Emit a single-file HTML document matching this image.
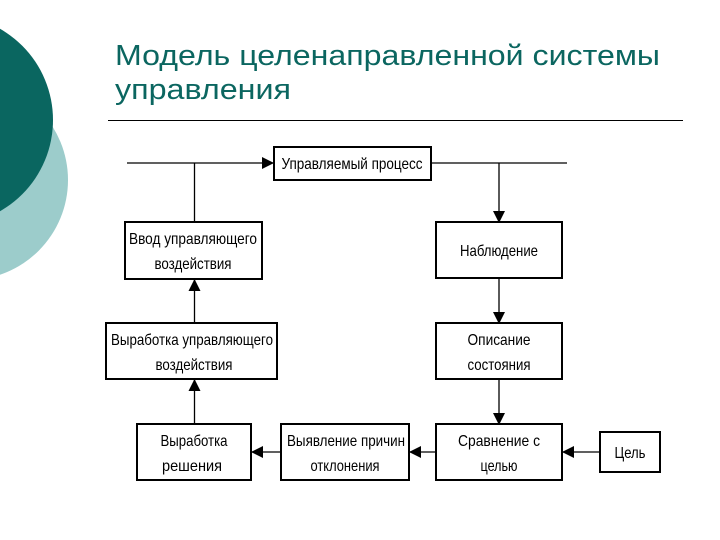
<!DOCTYPE html>
<html><head><meta charset="utf-8"><style>
html,body{margin:0;padding:0;background:#fff;}
svg{display:block;}
.t{font-family:"Liberation Sans",sans-serif;font-size:16px;fill:#000;text-anchor:middle;}
.h{font-family:"Liberation Sans",sans-serif;font-size:29px;fill:#0b6660;}
</style></head><body>
<svg width="720" height="540" viewBox="0 0 720 540" xmlns="http://www.w3.org/2000/svg">
<defs>
<marker id="a" markerWidth="12" markerHeight="12" refX="11" refY="6" orient="auto" markerUnits="userSpaceOnUse">
<path d="M0,0 L12,6 L0,12 z" fill="#000"/></marker>
</defs>
<circle cx="-32" cy="180" r="100" fill="#9ccccb"/>
<circle cx="-52" cy="120" r="105" fill="#0a6660"/>
<text class="h" x="115" y="65" textLength="545" lengthAdjust="spacingAndGlyphs">Модель целенаправленной системы</text>
<text class="h" x="115" y="99" textLength="176" lengthAdjust="spacingAndGlyphs">управления</text>
<line x1="108" y1="120.5" x2="683" y2="120.5" stroke="#000" stroke-width="1"/>

<g stroke="#000" stroke-width="1.3" fill="none">
<line x1="127" y1="163" x2="273" y2="163" marker-end="url(#a)"/>
<line x1="432" y1="163" x2="567" y2="163"/>
<line x1="194.5" y1="163" x2="194.5" y2="222"/>
<line x1="499" y1="163" x2="499" y2="222" marker-end="url(#a)"/>
<line x1="499" y1="279" x2="499" y2="323" marker-end="url(#a)"/>
<line x1="499" y1="380" x2="499" y2="424" marker-end="url(#a)"/>
<line x1="194.5" y1="323" x2="194.5" y2="280" marker-end="url(#a)"/>
<line x1="194.5" y1="424" x2="194.5" y2="380" marker-end="url(#a)"/>
<line x1="600" y1="452" x2="563" y2="452" marker-end="url(#a)"/>
<line x1="436" y1="452" x2="410" y2="452" marker-end="url(#a)"/>
<line x1="281" y1="452" x2="252" y2="452" marker-end="url(#a)"/>
</g>
<g stroke="#000" stroke-width="2" fill="#fff">
<rect x="274" y="147" width="157" height="33"/>
<rect x="125" y="222" width="137" height="57"/>
<rect x="436" y="222" width="126" height="56"/>
<rect x="106" y="323" width="171" height="56"/>
<rect x="436" y="323" width="126" height="56"/>
<rect x="137" y="424" width="114" height="56"/>
<rect x="281" y="424" width="128" height="56"/>
<rect x="436" y="424" width="126" height="56"/>
<rect x="600" y="432" width="60" height="40"/>
</g>
<g lengthAdjust="spacingAndGlyphs">
<text class="t" x="352" y="169" textLength="141" lengthAdjust="spacingAndGlyphs">Управляемый процесс</text>
<text class="t" x="193" y="244" textLength="128" lengthAdjust="spacingAndGlyphs">Ввод управляющего</text>
<text class="t" x="193" y="269" textLength="77" lengthAdjust="spacingAndGlyphs">воздействия</text>
<text class="t" x="499" y="256" textLength="78" lengthAdjust="spacingAndGlyphs">Наблюдение</text>
<text class="t" x="192" y="345" textLength="162" lengthAdjust="spacingAndGlyphs">Выработка управляющего</text>
<text class="t" x="194" y="370" textLength="77" lengthAdjust="spacingAndGlyphs">воздействия</text>
<text class="t" x="499" y="345" textLength="63" lengthAdjust="spacingAndGlyphs">Описание</text>
<text class="t" x="499" y="370" textLength="63" lengthAdjust="spacingAndGlyphs">состояния</text>
<text class="t" x="194" y="446" textLength="67" lengthAdjust="spacingAndGlyphs">Выработка</text>
<text class="t" x="192" y="471" textLength="60" lengthAdjust="spacingAndGlyphs">решения</text>
<text class="t" x="346" y="446" textLength="118" lengthAdjust="spacingAndGlyphs">Выявление причин</text>
<text class="t" x="345" y="471" textLength="69" lengthAdjust="spacingAndGlyphs">отклонения</text>
<text class="t" x="499" y="446" textLength="82" lengthAdjust="spacingAndGlyphs">Сравнение с</text>
<text class="t" x="499" y="471" textLength="37" lengthAdjust="spacingAndGlyphs">целью</text>
<text class="t" x="630" y="458" textLength="31" lengthAdjust="spacingAndGlyphs">Цель</text>
</g>
</svg>
</body></html>
